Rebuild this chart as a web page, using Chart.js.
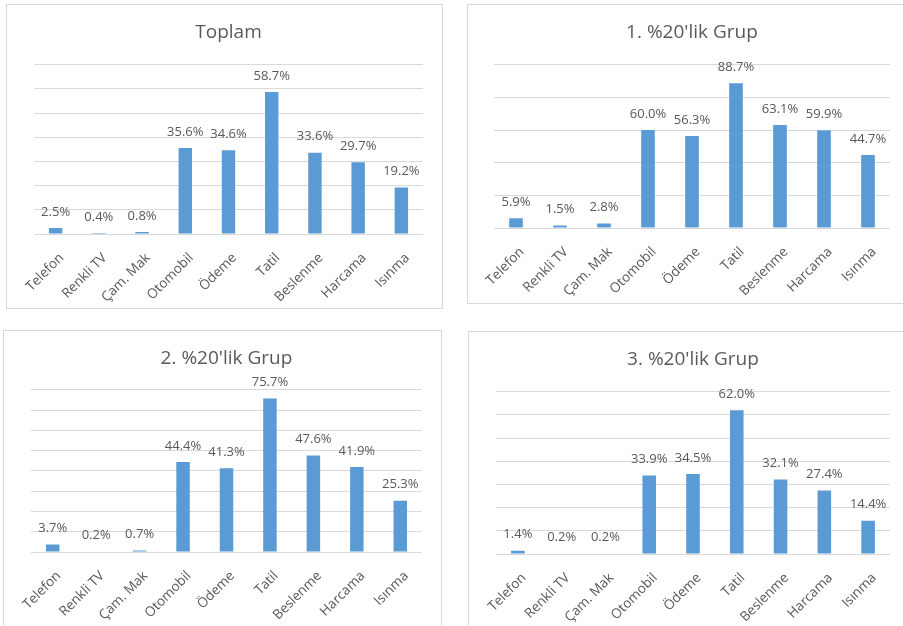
<!DOCTYPE html>
<html>
<head>
<meta charset="utf-8">
<script src="https://cdn.jsdelivr.net/npm/chart.js@4"></script>
<style>
body { margin: 0; background: #fff; width: 903px; height: 626px; overflow: hidden; position: relative; }
.panel { position: absolute; border: 1px solid #d9d9d9; box-sizing: border-box; background: #fff; }
canvas { display: block; }
</style>
</head>
<body>
<div class="panel" id="p1" style="left:6px;top:4px;width:437px;height:305px"><canvas id="c1"></canvas></div>
<div class="panel" id="p2" style="left:467px;top:4px;width:440px;height:300px"><canvas id="c2"></canvas></div>
<div class="panel" id="p3" style="left:3px;top:330px;width:439px;height:300px"><canvas id="c3"></canvas></div>
<div class="panel" id="p4" style="left:468px;top:331px;width:440px;height:300px"><canvas id="c4"></canvas></div>
<script>
const categories = ['Telefon', 'Renkli TV', 'Çam. Mak', 'Otomobil', 'Ödeme', 'Tatil', 'Beslenme', 'Harcama', 'Isınma']

const toplam = [2.5, 0.4, 0.8, 35.6, 34.6, 58.7, 33.6, 29.7, 19.2]
const grup1 = [5.9, 1.5, 2.8, 60.0, 56.3, 88.7, 63.1, 59.9, 44.7]
const grup2 = [3.7, 0.2, 0.7, 44.4, 41.3, 75.7, 47.6, 41.9, 25.3]
const grup3 = [1.4, 0.2, 0.2, 33.9, 34.5, 62.0, 32.1, 27.4, 14.4]

const titles = ['Toplam', "1. %20'lik Grup", "2. %20'lik Grup", "3. %20'lik Grup"]
const axisMax = [70, 100, 80, 70]
const axisStep = [10, 20, 10, 10]

const textColor = '#595959'
const barColor = '#5b9bd5'
const gridColor = '#d9d9d9'
const fontFamily = '"Open Sans", "Noto Sans", sans-serif'

// value labels above each bar
const valueLabels = {
    id: 'valueLabels',
    afterDatasetsDraw(chart){
        const ctx = chart.ctx
        const meta = chart.getDatasetMeta(0)
        ctx.save()
        ctx.font = '13px ' + fontFamily
        ctx.fillStyle = textColor
        ctx.textAlign = 'center'
        ctx.textBaseline = 'middle'
        meta.data.forEach((bar, i) => {
            const v = chart.data.datasets[0].data[i]
            ctx.fillText(v.toFixed(1) + '%', bar.x, bar.y - 16)
        })
        ctx.restore()
    }
}

function drawPanel(canvasId, values, n, pad){
    const canvas = document.querySelector(canvasId)
    const box = canvas.parentElement
    canvas.width = box.clientWidth
    canvas.height = box.clientHeight

    return new Chart(canvas.getContext('2d'), {
        type: 'bar',
        data: {
            labels: categories,
            datasets: [{
                data: values,
                backgroundColor: barColor,
                borderWidth: 0,
                categoryPercentage: 1,
                barPercentage: 0.31
            }]
        },
        options: {
            responsive: false,
            animation: false,
            layout: {
                padding: { left: pad.left, right: pad.right, top: 0, bottom: 0 }
            },
            plugins: {
                legend: { display: false },
                tooltip: { enabled: false },
                title: {
                    display: true,
                    text: titles[n],
                    color: textColor,
                    font: { family: fontFamily, size: 19, weight: 'normal' },
                    padding: { top: 16, bottom: pad.titleBottom }
                }
            },
            scales: {
                x: {
                    grid: { display: false },
                    border: { display: false },
                    ticks: {
                        color: textColor,
                        font: { family: fontFamily, size: 13.5 },
                        maxRotation: 45,
                        minRotation: 45,
                        padding: 8,
                        labelOffset: 6,
                        autoSkip: false
                    },
                    afterFit(scale){ scale.height = pad.xHeight }
                },
                y: {
                    min: 0,
                    max: axisMax[n],
                    ticks: { display: false, stepSize: axisStep[n] },
                    border: { display: false },
                    grid: { color: gridColor, lineWidth: 1, drawTicks: false },
                    afterFit(scale){ scale.width = 0 }
                }
            }
        },
        plugins: [valueLabels]
    })
}

drawPanel('#c1', toplam, 0, { left: 27, right: 19, titleBottom: 21, xHeight: 74 })
drawPanel('#c2', grup1, 1, { left: 26, right: 16, titleBottom: 21, xHeight: 75 })
drawPanel('#c3', grup2, 2, { left: 27, right: 19, titleBottom: 20, xHeight: 77 })
drawPanel('#c4', grup3, 3, { left: 27, right: 17, titleBottom: 21, xHeight: 76 })
</script>
</body>
</html>
